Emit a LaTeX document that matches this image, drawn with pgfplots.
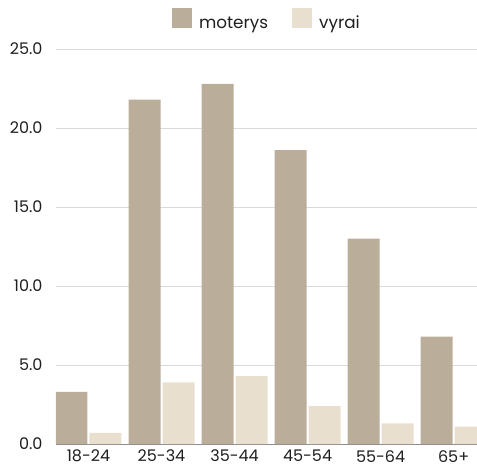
\documentclass[border=0pt]{standalone}
\usepackage{pgfplots}
\pgfplotsset{compat=1.18}
\usepackage{fontspec}
\setmainfont{Poppins}
\definecolor{mot}{HTML}{BAAE9B}
\definecolor{vyr}{HTML}{E9DFCF}
\definecolor{gridc}{HTML}{DADADA}
\begin{document}
\begin{tikzpicture}
\path[use as bounding box] (0,0) rectangle (477pt,467pt);
\begin{axis}[
  at={(56pt,23pt)}, anchor=south west,
  scale only axis, width=421pt, height=395pt,
  xmin=-0.445, xmax=5.32, ymin=0, ymax=25,
  xtick={0,1,2,3,4,5},
  xticklabels={18-24,25-34,35-44,45-54,55-64,65+},
  ytick={0,5,10,15,20,25},
  yticklabel style={/pgf/number format/fixed, /pgf/number format/fixed zerofill, /pgf/number format/precision=1},
  /pgf/number format/assume math mode=true,
  tick label style={font=\fontsize{16}{19}\selectfont, text=black!88},
  yticklabel style={anchor=east, xshift=-10pt},
  xticklabel style={yshift=-6pt, inner ysep=0pt},
  major tick length=0pt,
  axis line style={draw=none},
  ymajorgrids, grid style={gridc, line width=0.8pt},
  extra y ticks={0}, extra y tick labels={},
  extra y tick style={grid style={black!45, line width=1pt}},
  clip=true,
  legend style={at={(0.501,1.073)}, anchor=center, draw=none, fill=none,
    legend columns=2, font=\fontsize{16.8}{19}\selectfont, text=black!88,
    /tikz/every even column/.append style={column sep=22pt}},
  legend image code/.code={\fill[#1] (0pt,-5pt) rectangle (20pt,15pt); \path (25pt,0pt);},
]
\addplot[ybar, bar width=32pt, bar shift=-17pt, fill=mot, draw=none]
  coordinates {(0,3.3) (1,21.8) (2,22.8) (3,18.6) (4,13.0) (5,6.8)};
\addlegendentry{moterys}
\addplot[ybar, bar width=32pt, bar shift=17pt, fill=vyr, draw=none]
  coordinates {(0,0.7) (1,3.9) (2,4.3) (3,2.4) (4,1.3) (5,1.1)};
\addlegendentry{vyrai}
\end{axis}
\end{tikzpicture}
\end{document}
